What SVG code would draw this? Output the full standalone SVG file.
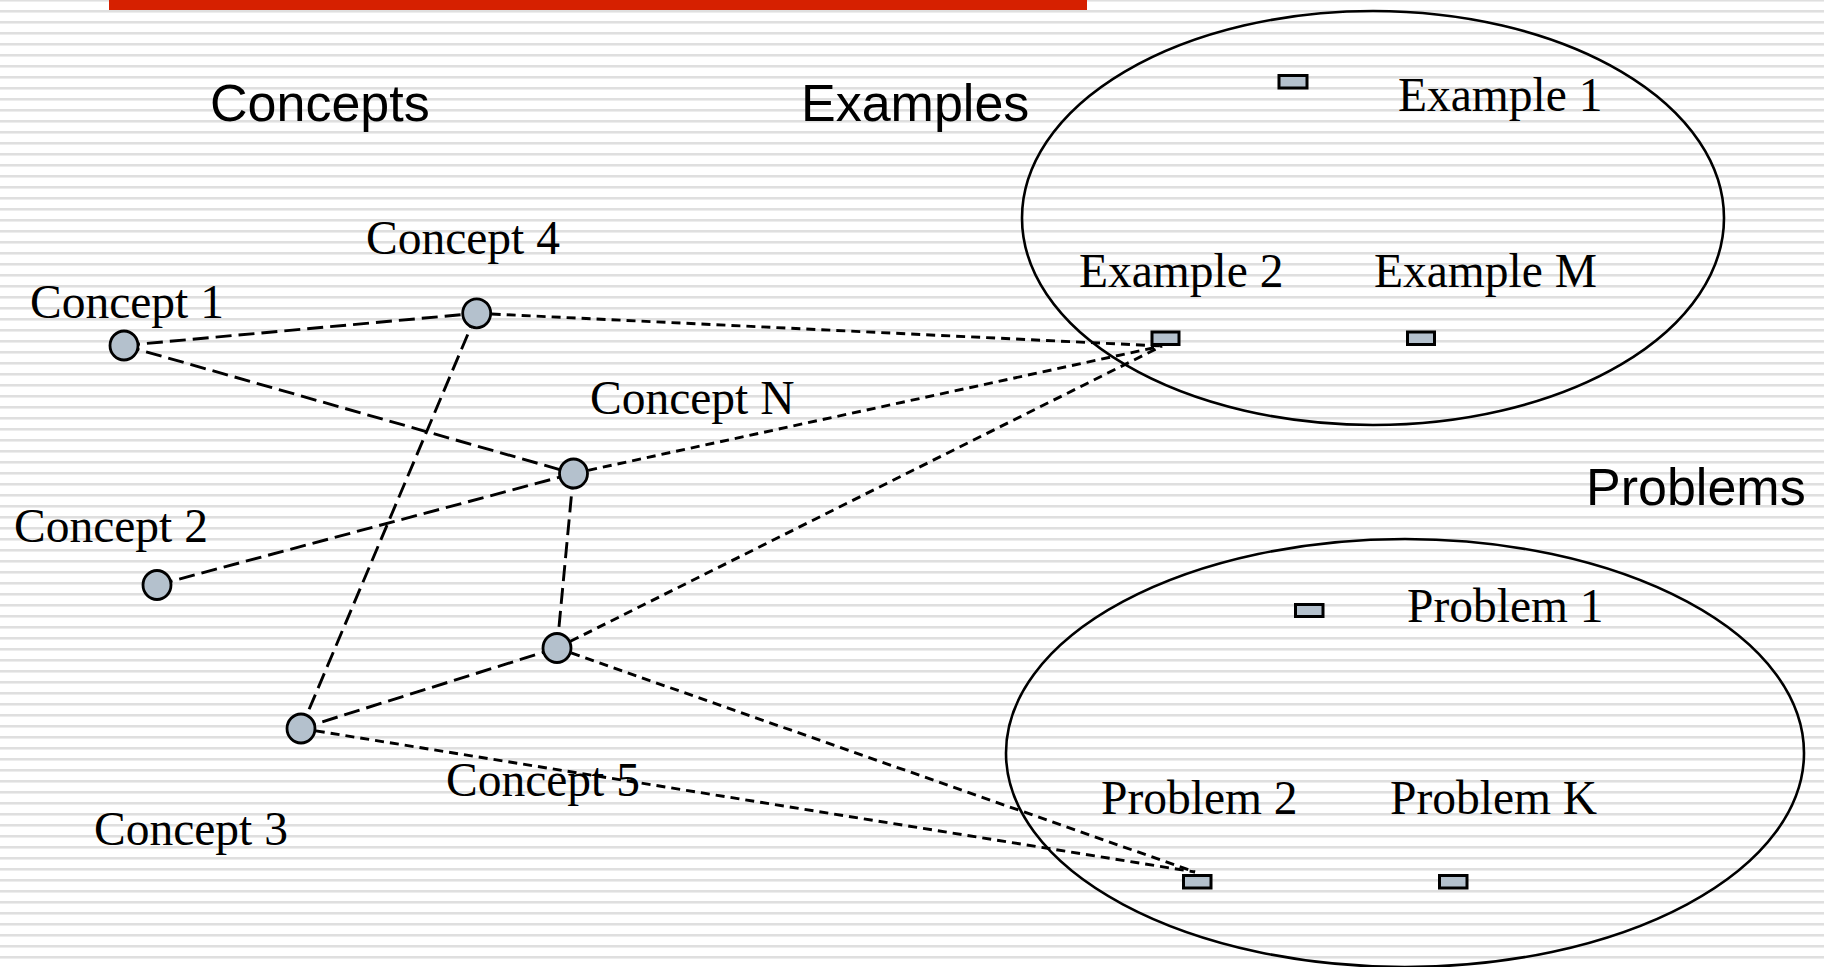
<svg xmlns="http://www.w3.org/2000/svg" width="1824" height="967" viewBox="0 0 1824 967">
  <defs>
    <pattern id="stripes" x="0" y="-1" width="40" height="11" patternUnits="userSpaceOnUse">
      <rect x="0" y="0" width="40" height="2" fill="#dfdfdf"/>
      <rect x="0" y="2" width="40" height="1" fill="#ededed"/>
    </pattern>
  </defs>
  <style>
    .heading { font-family: "Liberation Sans", Arial, sans-serif; font-size: 52px; fill: #000; }
    .label { font-family: "Liberation Serif", "Times New Roman", serif; font-size: 47.5px; fill: #000; }
    .concept { fill: #b4c1cd; stroke: #000; stroke-width: 2.8; }
    .item { fill: #b4c1cd; stroke: #000; stroke-width: 3; }
    .set { fill: none; stroke: #000; stroke-width: 2.6; }
    .link { stroke: #000; stroke-width: 2.9; fill: none; stroke-dasharray: 16 7; }
    .use { stroke: #000; stroke-width: 2.9; fill: none; stroke-dasharray: 9 6; }
  </style>

  <!-- background -->
  <rect x="0" y="0" width="1824" height="967" fill="#ffffff"/>
  <rect x="0" y="0" width="1824" height="967" fill="url(#stripes)"/>
  <rect x="109" y="0" width="978" height="10" fill="#d62000"/>

  <!-- section headings -->
  <text class="heading" x="210" y="121">Concepts</text>
  <text class="heading" x="801" y="121">Examples</text>
  <text class="heading" x="1586" y="505">Problems</text>

  <!-- set outlines -->
  <ellipse class="set" cx="1373" cy="218" rx="351" ry="207"/>
  <ellipse class="set" cx="1405" cy="753" rx="399" ry="214"/>

  <!-- connectors -->
  <g id="connectors">
    <line class="link" x1="124" y1="345.5" x2="476.7" y2="313.3"/>
    <line class="link" x1="124" y1="345.5" x2="573.5" y2="473.5"/>
    <line class="link" x1="476.7" y1="313.3" x2="301" y2="728.5"/>
    <line class="link" x1="157" y1="585" x2="573.5" y2="473.5"/>
    <line class="link" x1="573.5" y1="473.5" x2="557" y2="648"/>
    <line class="link" x1="557" y1="648" x2="301" y2="728.5"/>
    <line class="use" x1="476.7" y1="313.3" x2="1162" y2="346"/>
    <line class="use" x1="573.5" y1="473.5" x2="1162" y2="346"/>
    <line class="use" x1="557" y1="648" x2="1162" y2="346"/>
    <line class="use" x1="557" y1="648" x2="1195" y2="872"/>
    <line class="use" x1="301" y1="728.5" x2="1195" y2="872"/>
  </g>

  <!-- concept nodes -->
  <g id="concept1">
    <ellipse class="concept" cx="124" cy="345.5" rx="14" ry="14.5"/>
    <text class="label" x="30" y="318">Concept 1</text>
  </g>
  <g id="concept4">
    <ellipse class="concept" cx="476.7" cy="313.3" rx="14" ry="14.5"/>
    <text class="label" x="366" y="254">Concept 4</text>
  </g>
  <g id="conceptN">
    <ellipse class="concept" cx="573.5" cy="473.5" rx="14" ry="14.5"/>
    <text class="label" x="590" y="414">Concept N</text>
  </g>
  <g id="concept2">
    <ellipse class="concept" cx="157" cy="585" rx="14" ry="14.5"/>
    <text class="label" x="14" y="542">Concept 2</text>
  </g>
  <g id="concept5">
    <ellipse class="concept" cx="557" cy="648" rx="14" ry="14.5"/>
    <text class="label" x="446" y="796">Concept 5</text>
  </g>
  <g id="concept3">
    <ellipse class="concept" cx="301" cy="728.5" rx="14" ry="14.5"/>
    <text class="label" x="94" y="845">Concept 3</text>
  </g>

  <!-- examples -->
  <g id="example1">
    <rect class="item" x="1279" y="75.5" width="28" height="12.5"/>
    <text class="label" x="1398" y="111">Example 1</text>
  </g>
  <g id="example2">
    <rect class="item" x="1152" y="332" width="27" height="12.5"/>
    <text class="label" x="1079" y="287">Example 2</text>
  </g>
  <g id="exampleM">
    <rect class="item" x="1407.5" y="332" width="27" height="12.5"/>
    <text class="label" x="1374" y="287">Example M</text>
  </g>

  <!-- problems -->
  <g id="problem1">
    <rect class="item" x="1295.5" y="604.5" width="27.5" height="12"/>
    <text class="label" x="1407" y="622">Problem 1</text>
  </g>
  <g id="problem2">
    <rect class="item" x="1183.5" y="875.5" width="27.5" height="12.5"/>
    <text class="label" x="1101" y="814">Problem 2</text>
  </g>
  <g id="problemK">
    <rect class="item" x="1439.5" y="875.5" width="27.5" height="12.5"/>
    <text class="label" x="1390" y="814">Problem K</text>
  </g>
</svg>
